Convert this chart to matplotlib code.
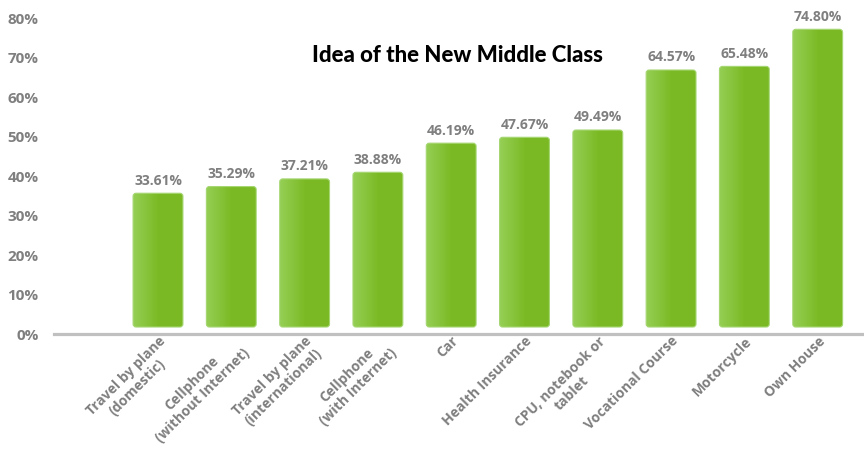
import numpy as np
import matplotlib
matplotlib.use("Agg")
import matplotlib.pyplot as plt
from matplotlib.patches import FancyBboxPatch
from matplotlib.colors import LinearSegmentedColormap

# survey items and the share who named them
items = ["Travel by plane\n(domestic)", "Cellphone\n(without Internet)",
         "Travel by plane\n(international)", "Cellphone\n(with Internet)", "Car",
         "Health Insurance", "CPU, notebook or\ntablet", "Vocational Course",
         "Motorcycle", "Own House"]
shares = [33.61, 35.29, 37.21, 38.88, 46.19, 47.67, 49.49, 64.57, 65.48, 74.80]
tick_vals = [0, 10, 20, 30, 40, 50, 60, 70, 80]

GRAY = "#7f7f7f"
green = LinearSegmentedColormap.from_list(
    "bar_green", [(0, "#95cf55"), (0.5, "#7cba25"), (1, "#7ab923")])

fig = plt.figure(figsize=(8.64, 4.59), dpi=100)
ax = fig.add_axes([0.0625, 0.2723, 0.9375, 0.7277])

x = np.arange(len(shares))
width = 0.68
bars = ax.bar(x, shares, width=width, color="none", edgecolor="none")

# horizontal gradient fill inside rounded boxes
grad = np.linspace(0, 1, 256).reshape(1, -1)
pad_x = 3 / 73.3
pad_y = 3 / 3.98
for b in bars:
    x0, w, h = b.get_x(), b.get_width(), b.get_height()
    box = FancyBboxPatch((x0 + pad_x, pad_y), w - 2 * pad_x, h - 2 * pad_y,
                         boxstyle="round,pad=%f" % pad_x,
                         mutation_aspect=pad_y / pad_x,
                         facecolor="none", edgecolor="#a5d672", lw=0.8, zorder=3)
    ax.add_patch(box)
    im = ax.imshow(grad, cmap=green, aspect="auto", extent=(x0, x0 + w, 0, h),
                   zorder=2, interpolation="bilinear")
    im.set_clip_path(box)

ax.set_xlim(-1.419, 9.632)
ax.set_ylim(-1.76, 82.16)

for xi, v in zip(x, shares):
    ax.annotate("%.2f%%" % v, (xi, v), xytext=(0, 4), textcoords="offset points",
                ha="center", va="bottom", fontsize=10, fontweight="bold",
                color=GRAY, family="Open Sans")

ax.set_xticks(x)
ax.set_xticklabels(items, rotation=45, ha="right", rotation_mode="anchor",
                   fontsize=10, fontweight="bold", color=GRAY, family="Open Sans",
                   multialignment="center")
ax.tick_params(axis="x", length=0, pad=0)
ax.set_yticks([])

for s in ["top", "right", "left"]:
    ax.spines[s].set_visible(False)
ax.spines["bottom"].set_color("#c0c0c0")
ax.spines["bottom"].set_linewidth(2.3)

# percentage scale on its own axis
ay = ax.twinx()
ay.set_ylim(0, 84.56)
ay.yaxis.tick_left()
ay.set_yticks(tick_vals)
ay.set_yticklabels(["%d%%" % t for t in tick_vals], fontsize=11,
                   fontweight="bold", color=GRAY, family="Open Sans")
ay.tick_params(axis="y", length=0, pad=11)
for s in ay.spines.values():
    s.set_visible(False)

fig.text(0.529, 0.878, "Idea of the New Middle Class", ha="center", va="center",
         fontsize=16, fontweight="black", color="black", family="Lato")

fig.savefig("out.png", dpi=100)
